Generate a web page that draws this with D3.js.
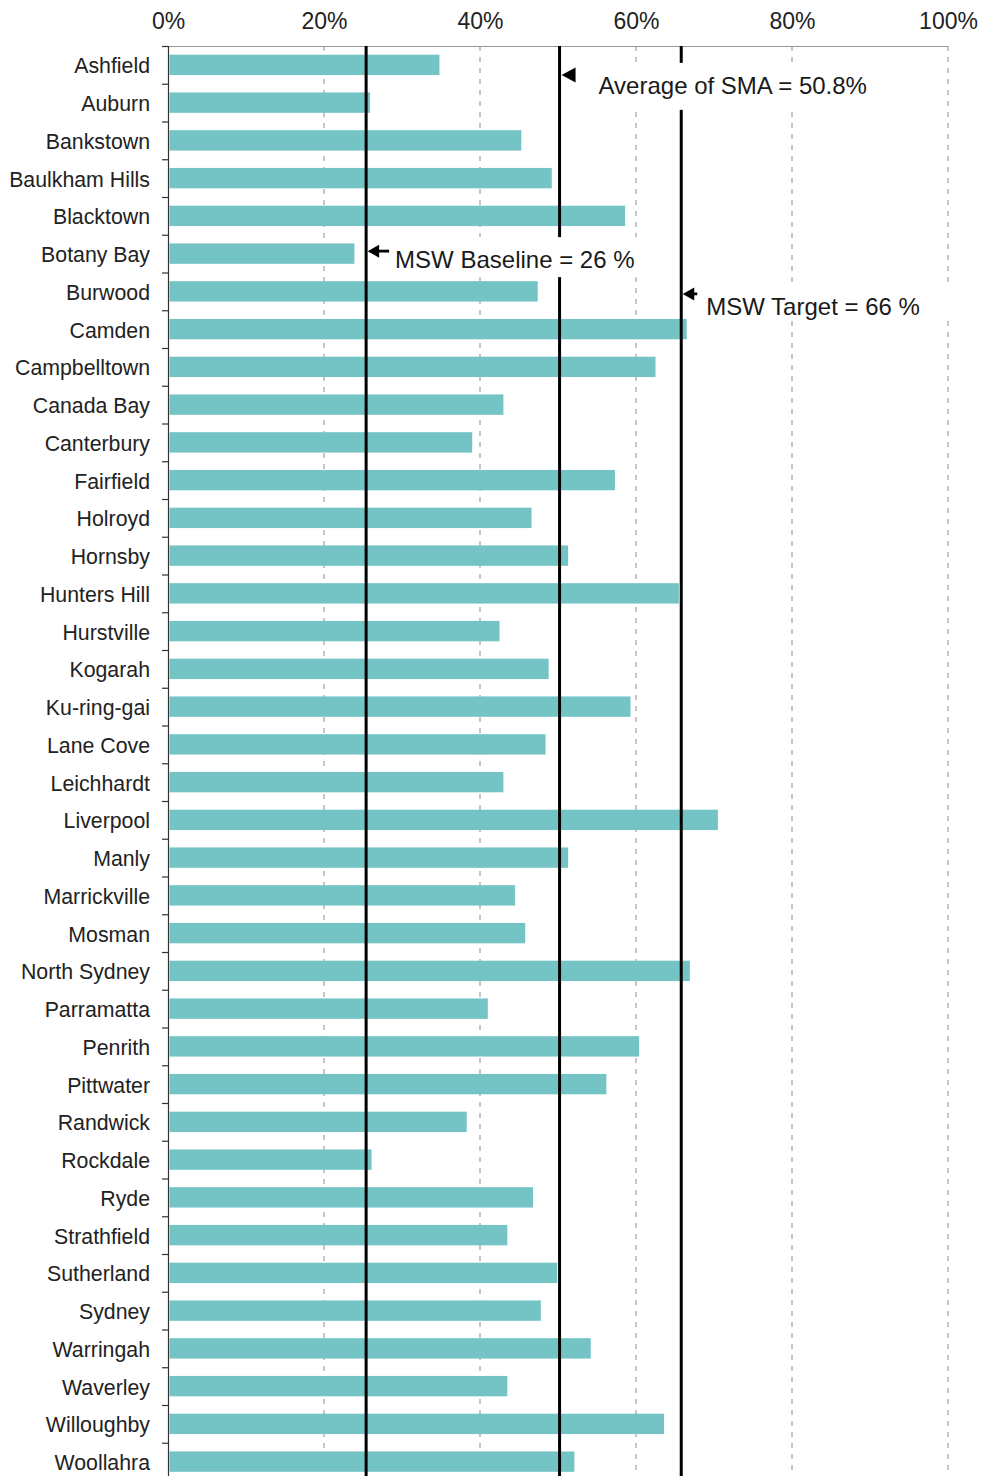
<!DOCTYPE html>
<html>
<head>
<meta charset="utf-8">
<script src="https://cdn.jsdelivr.net/npm/d3@7/dist/d3.min.js"></script>
<style>
  body { margin: 0; background: #fff; }
  svg { display: block; font-family: 'Liberation Sans', Arial, sans-serif; }
</style>
</head>
<body>
<div class="bar-chart"></div>
<script>
const councils = [
  'Ashfield', 'Auburn', 'Bankstown', 'Baulkham Hills', 'Blacktown',
  'Botany Bay', 'Burwood', 'Camden', 'Campbelltown', 'Canada Bay',
  'Canterbury', 'Fairfield', 'Holroyd', 'Hornsby', 'Hunters Hill',
  'Hurstville', 'Kogarah', 'Ku-ring-gai', 'Lane Cove', 'Leichhardt',
  'Liverpool', 'Manly', 'Marrickville', 'Mosman', 'North Sydney',
  'Parramatta', 'Penrith', 'Pittwater', 'Randwick', 'Rockdale',
  'Ryde', 'Strathfield', 'Sutherland', 'Sydney', 'Warringah',
  'Waverley', 'Willoughby', 'Woollahra',
];

// share of MSW recovered, %
const recoveryRates = [
  34.8, 25.9, 45.3, 49.2, 58.6,
  23.9, 47.4, 66.5, 62.5, 43.0,
  39.0, 57.3, 46.6, 51.3, 65.5,
  42.5, 48.8, 59.3, 48.4, 43.0,
  70.5, 51.3, 44.5, 45.8, 66.9,
  41.0, 60.4, 56.2, 38.3, 26.1,
  46.8, 43.5, 49.9, 47.8, 54.2,
  43.5, 63.6, 52.1,
];

const xTicks = [0, 20, 40, 60, 80, 100];

// reference lines as drawn in the source chart
const refLineNames = ['baseline', 'average', 'target'];
const refLineValues = [25.4, 50.2, 65.8];
const refLineLabels = ['MSW Baseline = 26 %', 'Average of SMA = 50.8%', 'MSW Target = 66 %'];

function drawBarChart() {
  const dimensions = {
    width: 983,
    height: 1476,
    margin: {
      top: 46,
      right: 35,
      bottom: -4.5,
      left: 168,
    },
  };

  dimensions.boundedWidth =
    dimensions.width - dimensions.margin.left - dimensions.margin.right;
  dimensions.boundedHeight =
    dimensions.height - dimensions.margin.top - dimensions.margin.bottom;

  const svg = d3
    .select('.bar-chart')
    .append('svg')
    .attr('width', dimensions.width)
    .attr('height', dimensions.height);

  const bounds = svg
    .append('g')
    .attr('transform', `translate(${dimensions.margin.left},${dimensions.margin.top})`);

  const xScale = d3
    .scaleLinear()
    .domain([0, 100])
    .range([0, dimensions.boundedWidth]);

  const yScale = d3
    .scaleBand()
    .domain(councils)
    .range([0, dimensions.boundedHeight])
    .paddingInner(0.46)
    .paddingOuter(0.23);

  const step = yScale.step();
  const rowCenter = (name) => yScale(name) + yScale.bandwidth() / 2;

  // gridlines
  bounds
    .append('g')
    .selectAll('line')
    .data(xTicks.filter((d) => d > 0))
    .join('line')
    .attr('x1', (d) => xScale(d))
    .attr('x2', (d) => xScale(d))
    .attr('y1', 0)
    .attr('y2', dimensions.boundedHeight)
    .attr('stroke', '#8c8c8c')
    .attr('stroke-width', 1)
    .attr('stroke-dasharray', '5,6');

  // top frame line
  bounds
    .append('line')
    .attr('x1', 0)
    .attr('x2', xScale(100))
    .attr('y1', 0.5)
    .attr('y2', 0.5)
    .attr('stroke', '#999')
    .attr('stroke-width', 1);

  // bars
  bounds
    .append('g')
    .selectAll('rect')
    .data(councils)
    .join('rect')
    .attr('x', xScale(0) + 1.5)
    .attr('y', (d) => yScale(d))
    .attr('width', (d, i) => xScale(recoveryRates[i]) - xScale(0) - 1.5)
    .attr('height', yScale.bandwidth())
    .attr('fill', '#74c4c5');

  // x axis on top
  const xAxisGenerator = d3
    .axisTop(xScale)
    .tickValues(xTicks)
    .tickFormat((d) => `${d}%`)
    .tickSize(0)
    .tickPadding(17);

  const xAxis = bounds.append('g').call(xAxisGenerator);
  xAxis.select('.domain').remove();
  xAxis
    .selectAll('text')
    .attr('font-size', 23)
    .attr('font-family', "'Liberation Sans', Arial, sans-serif")
    .attr('fill', '#222');

  // y axis: line, boundary ticks and labels
  bounds
    .append('line')
    .attr('x1', 0.5)
    .attr('x2', 0.5)
    .attr('y1', 0)
    .attr('y2', dimensions.boundedHeight)
    .attr('stroke', '#333')
    .attr('stroke-width', 1.2);

  bounds
    .append('g')
    .selectAll('line')
    .data(d3.range(councils.length + 1))
    .join('line')
    .attr('x1', -6)
    .attr('x2', 0)
    .attr('y1', (d) => d * step + 0.5)
    .attr('y2', (d) => d * step + 0.5)
    .attr('stroke', '#333')
    .attr('stroke-width', 1.2);

  bounds
    .append('g')
    .selectAll('text')
    .data(councils)
    .join('text')
    .attr('x', -18)
    .attr('y', (d) => rowCenter(d) + 1.5)
    .attr('text-anchor', 'end')
    .attr('dominant-baseline', 'central')
    .attr('font-size', 21.3)
    .attr('fill', '#222')
    .text((d) => d);

  // reference lines
  bounds
    .append('g')
    .selectAll('line')
    .data(refLineValues)
    .join('line')
    .attr('x1', (d) => xScale(d))
    .attr('x2', (d) => xScale(d))
    .attr('y1', 0)
    .attr('y2', dimensions.boundedHeight)
    .attr('stroke', '#000')
    .attr('stroke-width', 3);

  // annotation placement, relative to a row and to the line
  const layout = {
    average: { row: 'Ashfield', arrowDy: 10, textDx: 39, textDy: 21, box: [3, 380, -2, 45], head: 'flag', shaft: 0 },
    baseline: { row: 'Botany Bay', arrowDy: -2.5, textDx: 29, textDy: 5.5, box: [3, 276, -16.5, 23.5], head: 'arrow', shaft: 23 },
    target: { row: 'Burwood', arrowDy: 2.5, textDx: 25, textDy: 15.5, box: [3, 292, -8, 27.5], head: 'arrow', shaft: 16 },
  };

  refLineNames.forEach((name, i) => {
    const spec = layout[name];
    const lx = xScale(refLineValues[i]);
    const cy = rowCenter(spec.row);
    const g = bounds.append('g');

    g.append('rect')
      .attr('x', lx + spec.box[0])
      .attr('y', cy + spec.box[2])
      .attr('width', spec.box[1] - spec.box[0])
      .attr('height', spec.box[3] - spec.box[2])
      .attr('fill', '#fff');

    const ay = cy + spec.arrowDy;
    if (spec.head === 'flag') {
      g.append('path')
        .attr('d', `M${lx + 2},${ay} L${lx + 16},${ay - 7.5} L${lx + 16},${ay + 7.5} Z`)
        .attr('fill', '#000');
    } else {
      g.append('line')
        .attr('x1', lx + 8)
        .attr('x2', lx + spec.shaft)
        .attr('y1', ay)
        .attr('y2', ay)
        .attr('stroke', '#000')
        .attr('stroke-width', 2.8);
      g.append('path')
        .attr('d', `M${lx + 1.5},${ay} L${lx + 13},${ay - 6.5} L${lx + 13},${ay + 6.5} Z`)
        .attr('fill', '#000');
    }

    g.append('text')
      .attr('x', lx + spec.textDx)
      .attr('y', cy + spec.textDy)
      .attr('dominant-baseline', 'central')
      .attr('font-size', 24)
      .attr('fill', '#1a1a1a')
      .text(refLineLabels[i]);
  });
}

drawBarChart();
</script>
</body>
</html>
